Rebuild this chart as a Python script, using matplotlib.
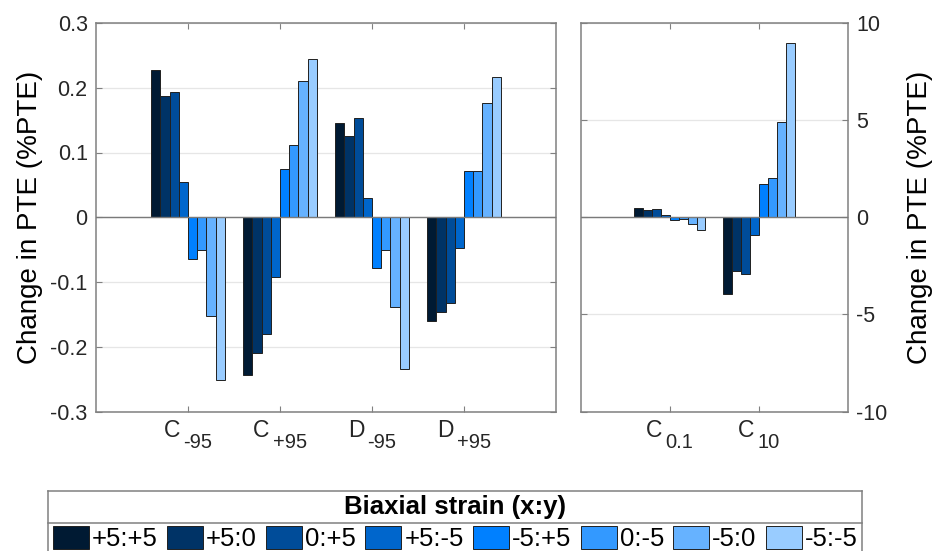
import matplotlib
matplotlib.use("Agg")
import matplotlib.pyplot as plt
from matplotlib.patches import Patch
import numpy as np

plt.rcParams["font.family"] = ["Liberation Sans", "DejaVu Sans"]
plt.rcParams["axes.unicode_minus"] = False

# ── data ─────────────────────────────────────────────────────────────────────
strain_labels = ["+5:+5", "+5:0", "0:+5", "+5:-5", "-5:+5", "0:-5", "-5:0", "-5:-5"]
strain_colors = ["#001a33", "#003366", "#004c99", "#0066cc",
                 "#0080ff", "#3399ff", "#66b2ff", "#99ccff"]

left_groups = ["C", "C", "D", "D"]
left_subs = ["-95", "+95", "-95", "+95"]
right_groups = ["C", "C"]
right_subs = ["0.1", "10"]

# one row per strain, one column per group (change in %PTE)
left_change = [
    [0.227, -0.244, 0.146, -0.160],
    [0.187, -0.210, 0.126, -0.147],
    [0.193, -0.180, 0.153, -0.132],
    [0.054, -0.092, 0.030, -0.047],
    [-0.064, 0.075, -0.078, 0.071],
    [-0.051, 0.112, -0.051, 0.071],
    [-0.153, 0.210, -0.139, 0.177],
    [-0.251, 0.244, -0.234, 0.217],
]
right_change = [
    [0.50, -3.93],
    [0.38, -2.77],
    [0.40, -2.94],
    [0.10, -0.89],
    [-0.14, 1.70],
    [-0.10, 2.03],
    [-0.36, 4.92],
    [-0.64, 8.99],
]

left_yticks = [-0.3, -0.2, -0.1, 0, 0.1, 0.2, 0.3]
left_yticklabels = ["-0.3", "-0.2", "-0.1", "0", "0.1", "0.2", "0.3"]
right_yticks = [-10, -5, 0, 5, 10]

SPINE = "#808080"
TXT = "#262626"
W, H = 933, 551


def style_axes(ax):
    for s in ax.spines.values():
        s.set_color(SPINE)
        s.set_linewidth(1.1)
    ax.tick_params(direction="in", length=4, width=0.8, color=SPINE,
                   labelcolor=TXT, labelsize=15.5, pad=6,
                   top=True, bottom=True, left=True, right=True)
    ax.tick_params(axis="x", labelbottom=False)
    ax.yaxis.grid(True, color="#e6e6e6", linewidth=0.9)
    ax.set_axisbelow(True)


def grouped_bars(ax, change, n_groups):
    n = len(change)
    width = 0.8 / n
    x = np.arange(1, n_groups + 1)
    for i, (vals, col) in enumerate(zip(change, strain_colors)):
        ax.bar(x + (i - (n - 1) / 2) * width, vals, width=width,
               color=col, edgecolor="#202020", linewidth=0.7, zorder=2)
    ax.axhline(0, color="#7a7a7a", linewidth=1.0, zorder=3)
    ax.set_xticks(x)


def sub_labels(ax, bases, subs):
    """Group labels like C with a lowered subscript, centred on each tick."""
    pairs = []
    for x, (b, s) in enumerate(zip(bases, subs), start=1):
        tb = ax.annotate(b, xy=(x, 0), xycoords=("data", "axes fraction"),
                         xytext=(0, -25.5), textcoords="offset pixels",
                         ha="left", va="baseline", fontsize=16.5, color=TXT)
        ts = ax.annotate(s, xy=(x, 0), xycoords=("data", "axes fraction"),
                         xytext=(0, -37), textcoords="offset pixels",
                         ha="left", va="baseline", fontsize=14.5, color=TXT)
        pairs.append((tb, ts))
    return pairs


fig = plt.figure(figsize=(W / 100, H / 100), dpi=100)

# ── left panel ────────────────────────────────────────────────────────────────
ax1 = fig.add_axes([96 / W, 1 - 411.5 / H, 460 / W, 388.5 / H])
grouped_bars(ax1, left_change, len(left_groups))
ax1.set_xlim(0, 5)
ax1.set_ylim(-0.3, 0.3)
ax1.set_yticks(left_yticks)
ax1.set_yticklabels(left_yticklabels)
style_axes(ax1)
ax1.set_ylabel("Change in PTE (%PTE)", fontsize=20, labelpad=5)
pairs = sub_labels(ax1, left_groups, left_subs)

# ── right panel ───────────────────────────────────────────────────────────────
ax2 = fig.add_axes([580.7 / W, 1 - 411.5 / H, 267.3 / W, 388.5 / H])
grouped_bars(ax2, right_change, len(right_groups))
ax2.set_xlim(0, 3)
ax2.set_ylim(-10, 10)
ax2.set_yticks(right_yticks)
style_axes(ax2)
ax2.yaxis.tick_right()
ax2.tick_params(left=True, right=True, labelleft=False, labelright=True)
ax2.yaxis.set_label_position("right")
ax2.set_ylabel("Change in PTE (%PTE)", fontsize=20, labelpad=14,
               rotation=90)
pairs += sub_labels(ax2, right_groups, right_subs)

# centre each "base + subscript" pair on its tick
fig.canvas.draw()
gap = 3
for tb, ts in pairs:
    wb = tb.get_window_extent().width
    wsub = ts.get_window_extent().width
    total = wb + gap + wsub
    tb.xyann = (-total / 2, tb.xyann[1])
    ts.xyann = (-total / 2 + wb + gap, ts.xyann[1])

# ── legend box ────────────────────────────────────────────────────────────────
lx0, lx1, ly0 = 48.3, 862, 491
legax = fig.add_axes([lx0 / W, 1 - 565 / H, (lx1 - lx0) / W, (565 - ly0) / H])
legax.set_xticks([])
legax.set_yticks([])
for s in legax.spines.values():
    s.set_color(SPINE)
    s.set_linewidth(1.1)
fig.add_artist(plt.Line2D([lx0 / W, lx1 / W], [1 - 522.7 / H] * 2,
                          color=SPINE, linewidth=1.1))
fig.text((lx0 + lx1) / 2 / W, 1 - 507 / H, "Biaxial strain (x:y)",
         ha="center", va="center", fontsize=18.5, fontweight="bold")

handles = [Patch(facecolor=c, edgecolor="#202020", linewidth=0.7)
           for c in strain_colors]
fig.legend(handles, strain_labels, loc="upper left", ncol=len(strain_labels),
           bbox_to_anchor=(52.7 / W, 1 - 526 / H), frameon=False,
           fontsize=18.5, handlelength=1.4, handleheight=1.0,
           handletextpad=0.12, columnspacing=0.36, borderpad=0,
           borderaxespad=0)

fig.savefig("out.png", dpi=100)
